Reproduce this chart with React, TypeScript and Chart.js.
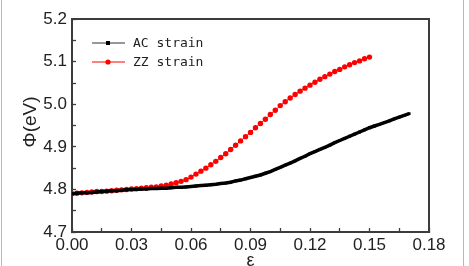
import React, { useEffect, useRef } from 'react';
import { Chart, registerables } from 'chart.js';
Chart.register(...registerables);

// strain sample points (ε)
const strain = [
  0.0, 0.0025, 0.005, 0.0075, 0.01, 0.0125, 0.015, 0.0175, 0.02, 0.0225,
  0.025, 0.0275, 0.03, 0.0325, 0.035, 0.0375, 0.04, 0.0425, 0.045, 0.0475,
  0.05, 0.0525, 0.055, 0.0575, 0.06, 0.0625, 0.065, 0.0675, 0.07, 0.0725,
  0.075, 0.0775, 0.08, 0.0825, 0.085, 0.0875, 0.09, 0.0925, 0.095, 0.0975,
  0.1, 0.1025, 0.105, 0.1075, 0.11, 0.1125, 0.115, 0.1175, 0.12, 0.1225,
  0.125, 0.1275, 0.13, 0.1325, 0.135, 0.1375, 0.14, 0.1425, 0.145, 0.1475,
  0.15, 0.1525, 0.155, 0.1575, 0.16, 0.1625, 0.165, 0.1675, 0.17,
];

// Φ (eV) under armchair strain
const acPhi = [
  4.790, 4.791, 4.792, 4.792, 4.793, 4.794, 4.795, 4.796, 4.797, 4.797,
  4.798, 4.799, 4.800, 4.800, 4.801, 4.801, 4.802, 4.802, 4.803, 4.803,
  4.804, 4.805, 4.805, 4.806, 4.807, 4.808, 4.809, 4.810, 4.811, 4.812,
  4.814, 4.815, 4.817, 4.820, 4.822, 4.825, 4.828, 4.831, 4.834, 4.838,
  4.842, 4.847, 4.852, 4.857, 4.862, 4.867, 4.873, 4.878, 4.884, 4.889,
  4.894, 4.899, 4.904, 4.910, 4.915, 4.920, 4.925, 4.930, 4.935, 4.940,
  4.945, 4.949, 4.953, 4.957, 4.961, 4.966, 4.970, 4.974, 4.978,
];

// Φ (eV) under zigzag strain
const zzPhi = [
  4.790, 4.791, 4.792, 4.793, 4.794, 4.795, 4.795, 4.796, 4.797, 4.798,
  4.799, 4.800, 4.801, 4.802, 4.803, 4.804, 4.805, 4.806, 4.808, 4.810,
  4.813, 4.816, 4.819, 4.823, 4.829, 4.836, 4.843, 4.850, 4.858, 4.866,
  4.875, 4.884, 4.894, 4.904, 4.914, 4.924, 4.934, 4.945, 4.955, 4.965,
  4.976, 4.986, 4.997, 5.006, 5.015, 5.023, 5.031, 5.038, 5.045, 5.052,
  5.059, 5.065, 5.071, 5.077, 5.082, 5.088, 5.093, 5.098, 5.102, 5.107,
  5.111,
];

const xTicks = [0, 0.03, 0.06, 0.09, 0.12, 0.15, 0.18];
const xMinorTicks = [0.015, 0.045, 0.075, 0.105, 0.135, 0.165];
const yTicks = [4.7, 4.8, 4.9, 5.0, 5.1, 5.2];
const yMinorTicks = [4.75, 4.85, 4.95, 5.05, 5.15];

const seriesNames = ['AC strain', 'ZZ strain'];
const seriesColors = ['#000000', '#ff0000'];

const FRAME = '#3c3c3c';
const LABEL_FONT = { family: '"Liberation Sans", Arial, sans-serif', size: 17 };

const frameGrid = {
  display: true,
  drawOnChartArea: false,
  drawTicks: true,
  tickLength: -4,
  tickColor: FRAME,
  tickWidth: 1.3,
};
const frameBorder = { display: true, color: FRAME, width: 2 };
const plainGrid = { display: true, drawOnChartArea: false, drawTicks: false };

const decorPlugin = {
  id: 'decor',
  afterDraw(chart: any) {
    const ctx: CanvasRenderingContext2D = chart.ctx;
    const ca = chart.chartArea;
    ctx.save();
    // outer image edges
    ctx.fillStyle = '#b8b8b8';
    ctx.fillRect(1, 0, 1, 266);
    ctx.fillRect(463, 0, 1, 266);

    // axis titles
    ctx.fillStyle = '#222';
    ctx.textAlign = 'center';
    ctx.textBaseline = 'middle';
    ctx.font = '18px "Liberation Sans", Arial, sans-serif';
    ctx.fillText('ε', (ca.left + ca.right) / 2, 261);
    ctx.translate(31, 122);
    ctx.rotate(-Math.PI / 2);
    ctx.font = '19px "Liberation Sans", Arial, sans-serif';
    ctx.fillText('Φ(eV)', 0, 0);
    ctx.setTransform(1, 0, 0, 1, 0, 0);

    // legend
    const rows = [43, 62];
    ctx.font = '13px "DejaVu Sans Mono", monospace';
    ctx.textAlign = 'left';
    seriesNames.forEach((name, i) => {
      const y = rows[i];
      ctx.fillStyle = i === 0 ? '#333' : seriesColors[i];
      ctx.fillRect(92, y - 0.5, 33, 1);
      ctx.fillStyle = seriesColors[i];
      if (i === 0) {
        ctx.fillRect(106, y - 2, 4, 4);
      } else {
        ctx.beginPath();
        ctx.arc(108, y, 2.6, 0, Math.PI * 2);
        ctx.fill();
      }
      ctx.fillStyle = '#222';
      ctx.fillText(name, 133, y + 1);
    });
    ctx.restore();
  },
};

export default function App() {
  const ref = useRef<HTMLCanvasElement>(null);
  useEffect(() => {
    if (!ref.current) return;
    const chart = new Chart(ref.current, {
      type: 'line',
      data: {
        datasets: [
          {
            label: seriesNames[0],
            data: strain.map((x, i) => ({ x, y: acPhi[i] })),
            borderColor: seriesColors[0],
            backgroundColor: seriesColors[0],
            borderWidth: 3.5,
            pointStyle: 'rect',
            pointRadius: 2,
            pointBorderWidth: 0,
            tension: 0,
          },
          {
            label: seriesNames[1],
            data: zzPhi.map((y, i) => ({ x: strain[i], y })),
            borderColor: seriesColors[1],
            backgroundColor: seriesColors[1],
            borderWidth: 1,
            pointStyle: 'circle',
            pointRadius: 2.7,
            pointBorderWidth: 0,
            tension: 0,
          },
        ],
      },
      options: {
        responsive: false,
        animation: false,
        layout: { padding: { left: 0, top: 18, right: 40, bottom: 0 } },
        plugins: { legend: { display: false }, tooltip: { enabled: false } },
        scales: {
          x: {
            type: 'linear',
            position: 'bottom',
            min: 0,
            max: 0.18,
            afterBuildTicks: (s: any) => {
              s.ticks = [...xTicks, ...xMinorTicks]
                .sort((a, b) => a - b)
                .map((value) => ({ value }));
            },
            afterFit: (s: any) => {
              s.height = 34;
            },
            grid: frameGrid,
            border: frameBorder,
            ticks: {
              padding: 7,
              color: '#222',
              font: LABEL_FONT,
              callback: (v: any) => (xTicks.includes(v) ? Number(v).toFixed(2) : ''),
              maxRotation: 0,
              autoSkip: false,
            },
          },
          y: {
            type: 'linear',
            position: 'left',
            min: 4.7,
            max: 5.2,
            afterBuildTicks: (s: any) => {
              s.ticks = [...yTicks, ...yMinorTicks]
                .sort((a, b) => a - b)
                .map((value) => ({ value }));
            },
            afterFit: (s: any) => {
              s.width = 72;
            },
            grid: frameGrid,
            border: frameBorder,
            ticks: {
              padding: 9,
              color: '#222',
              font: LABEL_FONT,
              callback: (v: any) => (yTicks.includes(v) ? Number(v).toFixed(1) : ''),
              autoSkip: false,
            },
          },
          x2: {
            type: 'linear',
            position: 'top',
            min: 0,
            max: 0.18,
            afterFit: (s: any) => {
              s.height = 0;
            },
            grid: plainGrid,
            border: frameBorder,
            ticks: { display: false },
          },
          y2: {
            type: 'linear',
            position: 'right',
            min: 4.7,
            max: 5.2,
            afterFit: (s: any) => {
              s.width = 0;
            },
            grid: plainGrid,
            border: frameBorder,
            ticks: { display: false },
          },
        },
      },
      plugins: [decorPlugin],
    });
    return () => chart.destroy();
  }, []);
  return (
    <div style={{ position: 'absolute', left: 0, top: 0, width: 469, height: 266, background: '#fff' }}>
      <canvas ref={ref} width={469} height={266} />
    </div>
  );
}
